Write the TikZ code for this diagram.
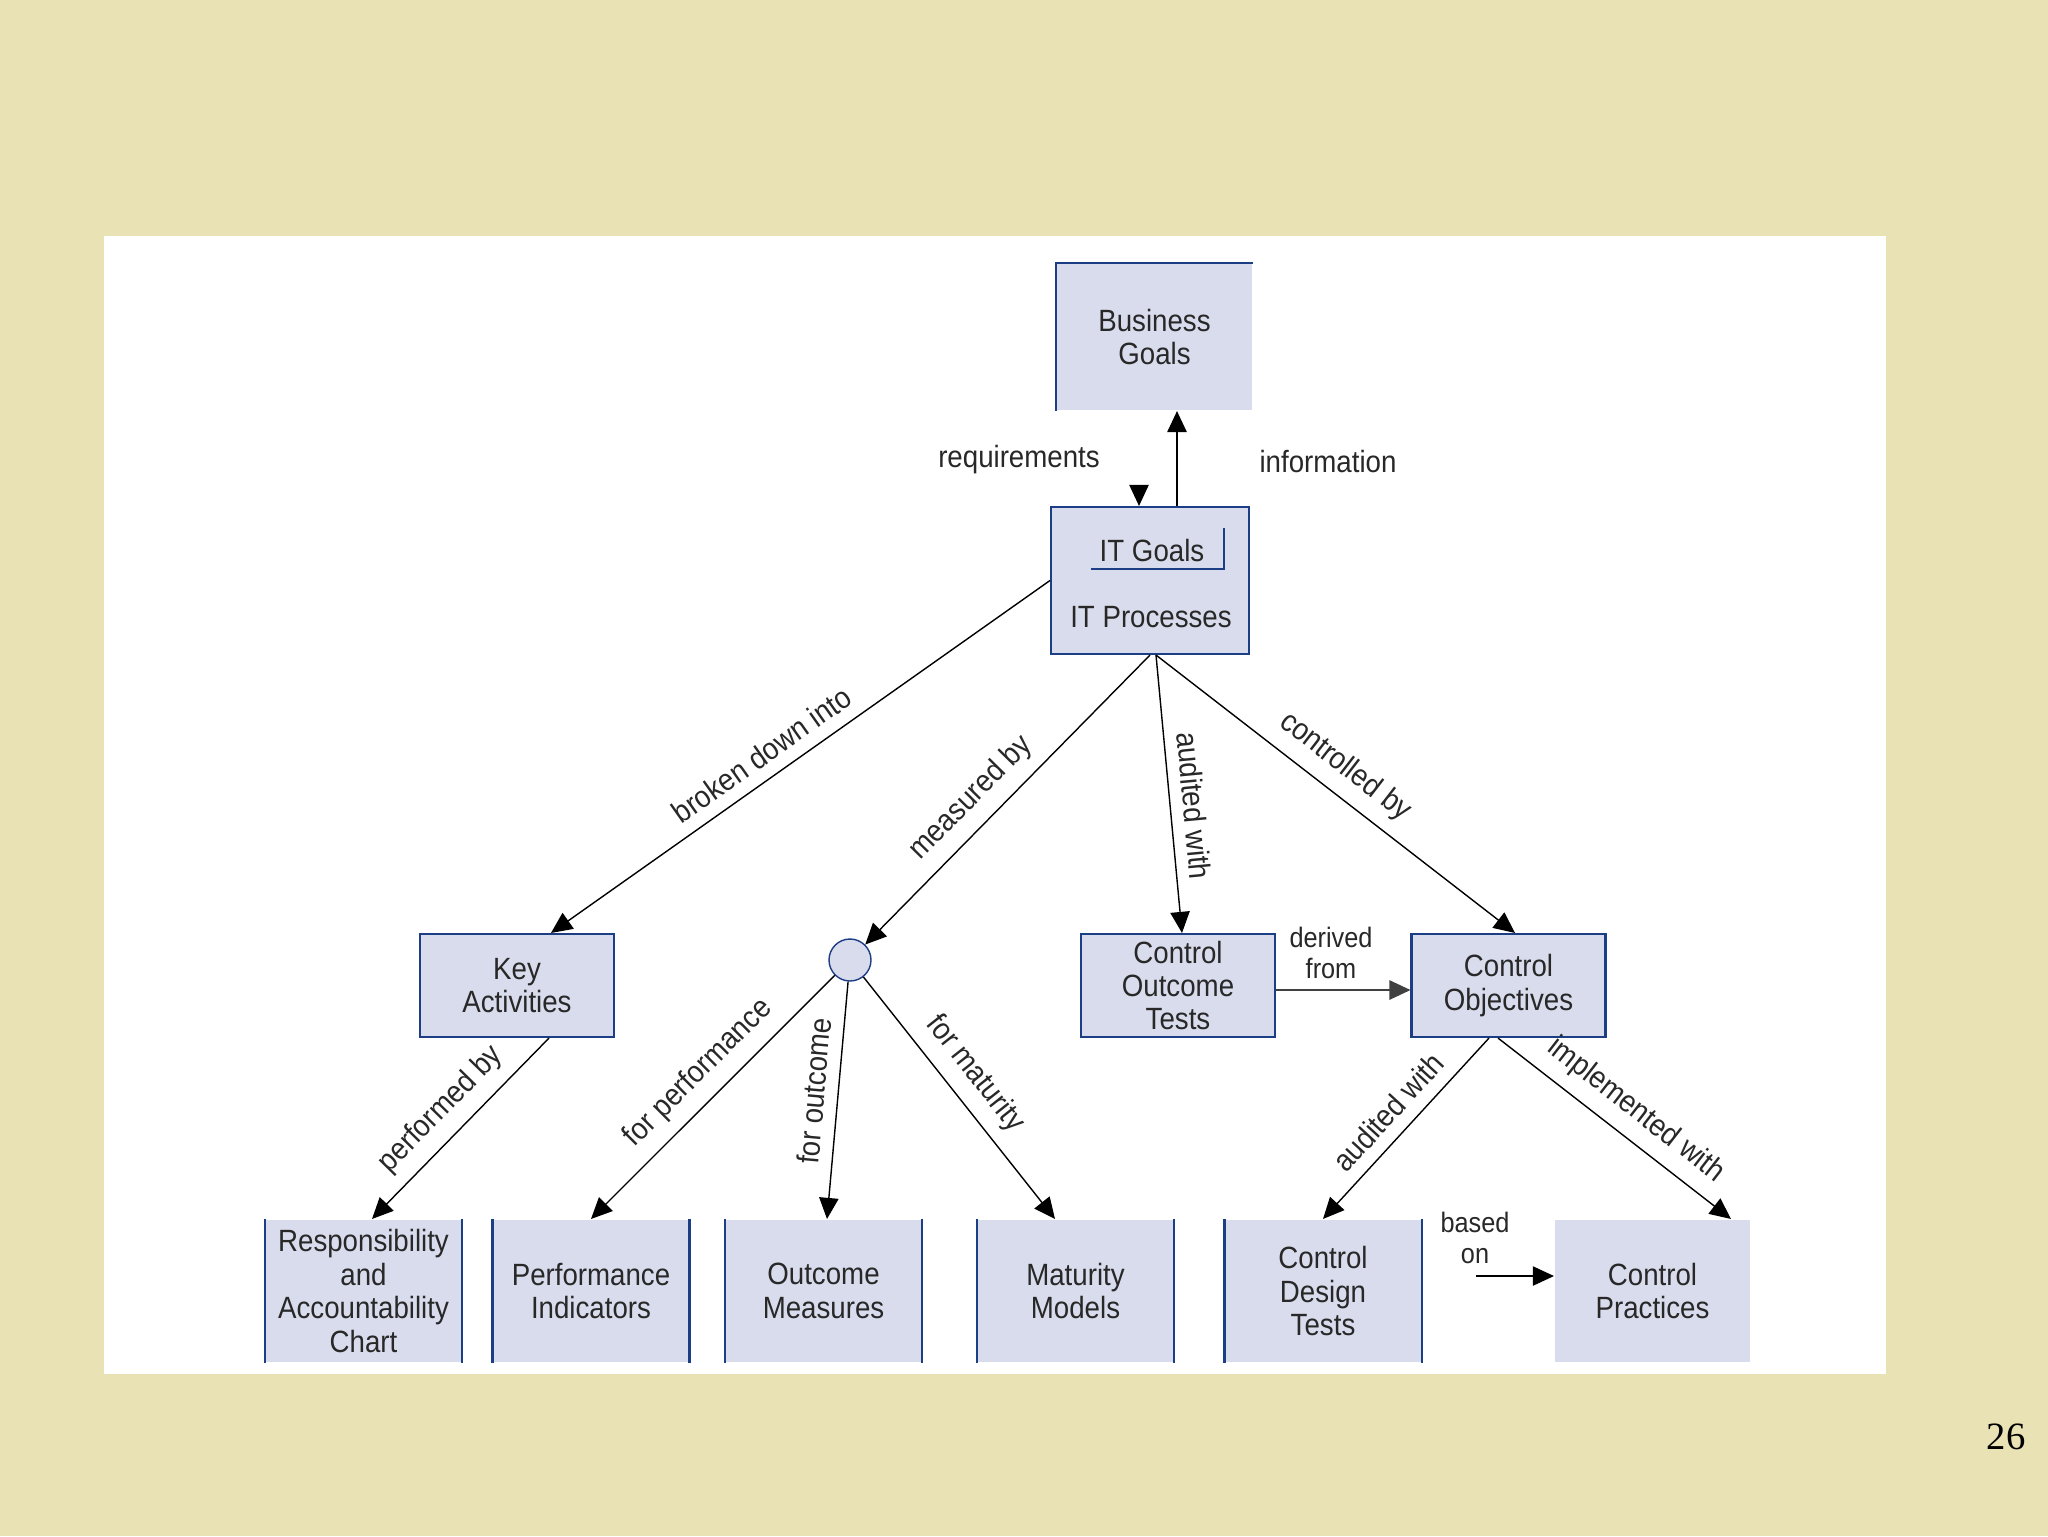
\documentclass[tikz,border=0pt]{standalone}
\usepackage{fontspec}
\setmainfont{Liberation Sans}[FakeStretch=0.9]
\newfontfamily\pagefont{Liberation Serif}
\usetikzlibrary{arrows.meta}
\definecolor{cream}{RGB}{232,226,180}
\definecolor{lav}{RGB}{217,220,236}
\definecolor{navy}{RGB}{28,62,132}
\definecolor{ink}{RGB}{40,40,40}
\tikzset{
	box/.style={fill=lav, draw=navy, line width=1.2pt, align=center, text=ink, inner sep=2pt},
	flat/.style={box, draw=none},
	tag/.style={text=ink, inner sep=3pt},
	along/.style={tag, sloped, above=4pt},
	link/.style={draw=black, line width=0.8pt, -{Triangle[length=12pt,width=11pt]}},
	rim/.style={draw=navy, line width=1.2pt}
}

\begin{document}
\begin{tikzpicture}[x=0.02cm, y=-0.02cm, font=\fontsize{17.5}{19}\selectfont]
		\fill [cream] (0,0) rectangle (2048,1536);
		\fill [white] (104,236) rectangle (1886,1374);

		% top
		\node [flat, minimum width=3.9cm, minimum height=2.92cm] (bg) at (1154.5,337) {Business\\Goals};
		\draw [rim] (bg.south west) -- (bg.north west) -- (bg.north east);
		\node [box, minimum width=3.96cm, minimum height=2.94cm] (it) at (1150,580.5) {};
		\node [tag] (itg) at (1152,550) {IT Goals};
		\node [tag] (itp) at (1151,617) {IT Processes};
		\draw [rim] (1091,569) -- (1224,569) -- (1224,528);
		\node [tag] (req) at (1019,460) {requirements};
		\node [tag] (info) at (1328,461) {information};

		% middle row
		\node [box, minimum width=3.88cm, minimum height=2.06cm] (key) at (517,985.5) {Key\\Activities};
		\node [circle, fill=lav, draw=navy, line width=0.8pt, minimum size=0.84cm, inner sep=0pt] (mc) at (850,960) {};
		\node [box, minimum width=3.88cm, minimum height=2.06cm] (cot) at (1178,985.5) {Control\\Outcome\\Tests};
		\node [box, minimum width=3.88cm, minimum height=2.06cm] (co) at (1508.5,985.5) {Control\\Objectives};
		\node [tag, align=center, font=\fontsize{16}{18}\selectfont] (der) at (1331,953) {derived\\from};

		% bottom row
		\node [flat, minimum width=3.9cm, minimum height=2.84cm] (ra) at (363.5,1291) {Responsibility\\and\\Accountability\\Chart};
		\node [flat, minimum width=3.9cm, minimum height=2.84cm] (pi) at (591,1291) {Performance\\Indicators};
		\node [flat, minimum width=3.9cm, minimum height=2.84cm] (om) at (823.5,1291) {Outcome\\Measures};
		\node [flat, minimum width=3.9cm, minimum height=2.84cm] (mm) at (1075.5,1291) {Maturity\\Models};
		\node [flat, minimum width=3.9cm, minimum height=2.84cm] (cdt) at (1323,1291) {Control\\Design\\Tests};
		\node [flat, minimum width=3.9cm, minimum height=2.84cm] (cp) at (1652.5,1291) {Control\\Practices};
		\foreach \n in {ra,pi,om,mm,cdt}
			\draw [rim] (\n.north west) -- (\n.south west) (\n.north east) -- (\n.south east);
		\node [tag, align=center, font=\fontsize{16}{18}\selectfont] (bas) at (1475,1238) {based\\on};

		% connectors
		\draw [link, line width=1.1pt] ([xshift=0.54cm]it.north) -- ([xshift=0.45cm]bg.south);
		\draw [link] ([xshift=-0.22cm, yshift=0.42cm]it.north) -- ([xshift=-0.22cm]it.north);
		\draw [link] (it.west) -- node [along, pos=0.55] {broken down into} ([xshift=0.68cm]key.north);
		\draw [link] (it.south) -- node [along, pos=0.56] {measured by} (mc);
		\draw [link] ([xshift=0.12cm]it.south) -- node [along, pos=0.55] {audited with} ([xshift=0.08cm]cot.north);
		\draw [link] ([xshift=0.12cm]it.south) -- node [along, pos=0.48] {controlled by} ([xshift=0.13cm]co.north);
		\draw [link, draw=darkgray, line width=1.1pt] ([yshift=-0.09cm]cot.east) -- ([yshift=-0.09cm]co.west);
		\draw [link] ([xshift=0.64cm]key.south) -- node [along, pos=0.5] {performed by} ([xshift=0.17cm]ra.north);
		\draw [link] (mc) -- node [along, pos=0.48] {for performance} (pi.north);
		\draw [link] (mc) -- node [along, pos=0.47] {for outcome} ([xshift=0.07cm]om.north);
		\draw [link] (mc) -- node [along, pos=0.47] {for maturity} ([xshift=-0.41cm]mm.north);
		\draw [link] ([xshift=-0.39cm]co.south) -- node [along, pos=0.5] {audited with} (cdt.north);
		\draw [link] ([xshift=-0.21cm]co.south) -- node [along, pos=0.52] {implemented with} ([xshift=1.57cm]cp.north);
		\coordinate (bo) at (1476,1276);
		\draw [link, line width=0.6pt] (bo) -- (bo -| cp.west);

		\node [font=\pagefont\fontsize{22}{24}\selectfont] (pg) at (2006,1437) {26};
	\end{tikzpicture}
\end{document}
